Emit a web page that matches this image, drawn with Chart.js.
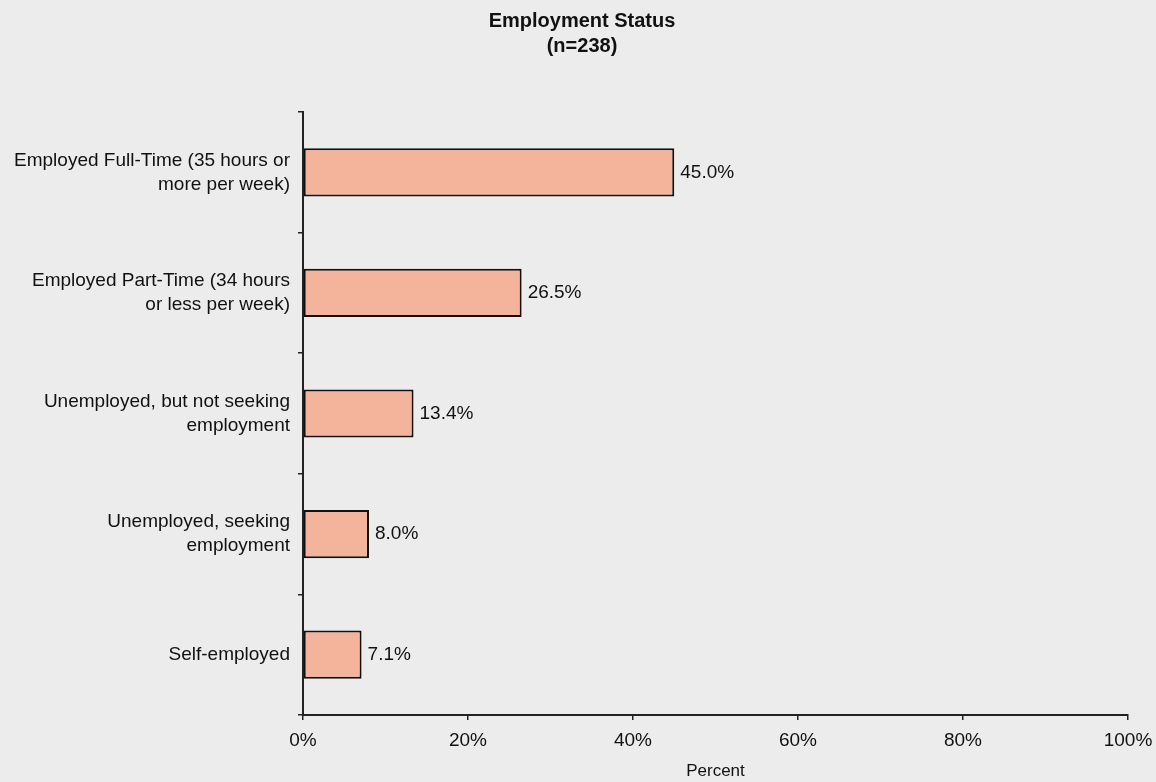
<!DOCTYPE html>
<html>
<head>
<meta charset="utf-8">
<script src="https://cdn.jsdelivr.net/npm/chart.js@4.4.1/dist/chart.umd.min.js"></script>
<style>
html,body{margin:0;padding:0;background:#ececec;}
#wrap{width:1156px;height:782px;position:relative;}
</style>
</head>
<body>
<div id="wrap"><canvas id="c" width="1156" height="782"></canvas></div>
<script>
const categories = [
  ["Employed Full-Time (35 hours or", "more per week)"],
  ["Employed Part-Time (34 hours", "or less per week)"],
  ["Unemployed, but not seeking", "employment"],
  ["Unemployed, seeking", "employment"],
  ["Self-employed"]
];
const values = [45.0, 26.5, 13.4, 8.0, 7.1];
const xTicks = [0, 20, 40, 60, 80, 100];
const titleLines = ["Employment Status", "(n=238)"];
const xTitle = "Percent";

const FONT = "'Liberation Sans', Arial, sans-serif";

const bgPlugin = {
  id: 'bg',
  beforeDraw(chart) {
    const ctx = chart.ctx;
    ctx.save();
    ctx.fillStyle = '#ececec';
    ctx.fillRect(0, 0, chart.width, chart.height);
    ctx.restore();
  }
};

const titlePlugin = {
  id: 'ttl',
  afterDraw(chart) {
    const ctx = chart.ctx;
    ctx.save();
    ctx.fillStyle = '#111';
    ctx.font = "bold 20px " + FONT;
    ctx.textAlign = 'center';
    ctx.textBaseline = 'middle';
    ctx.fillText(titleLines[0], 582, 21);
    ctx.fillText(titleLines[1], 582, 46);
    ctx.restore();
  }
};

const labelPlugin = {
  id: 'vals',
  afterDatasetsDraw(chart) {
    const ctx = chart.ctx;
    const meta = chart.getDatasetMeta(0);
    ctx.save();
    ctx.fillStyle = '#111';
    ctx.font = "19px " + FONT;
    ctx.textAlign = 'left';
    ctx.textBaseline = 'middle';
    meta.data.forEach((bar, i) => {
      ctx.fillText(values[i].toFixed(1) + '%', bar.x + 6, bar.y);
    });
    ctx.restore();
  }
};

new Chart(document.getElementById('c'), {
  type: 'bar',
  data: {
    labels: categories,
    datasets: [{
      data: values,
      backgroundColor: '#f3b49b',
      borderColor: '#111',
      borderWidth: 2,
      borderSkipped: false,
      barPercentage: 0.4,
      categoryPercentage: 1.0
    }]
  },
  options: {
    indexAxis: 'y',
    responsive: false,
    animation: false,
    devicePixelRatio: 1,
    layout: { padding: { top: 112, right: 28, left: 0, bottom: 0 } },
    plugins: { legend: { display: false }, title: { display: false }, tooltip: { enabled: false } },
    scales: {
      x: {
        min: 0, max: 100,
        afterBuildTicks(scale) { scale.ticks = xTicks.map(v => ({ value: v })); },
        afterFit(scale) { scale.height = 67; scale.paddingRight = 0; scale.paddingLeft = 0; },
        grid: { drawOnChartArea: false, tickLength: 5, color: '#222', lineWidth: 1.5 },
        border: { display: true, color: '#222', width: 2 },
        ticks: { color: '#111', font: { family: FONT, size: 19 }, padding: 9, maxRotation: 0,
                 callback: (v) => v + '%' },
        title: { display: true, text: xTitle, color: '#111', font: { family: FONT, size: 17 }, padding: { top: 0, bottom: 0 } }
      },
      y: {
        afterFit(scale) { scale.width = 303; scale.paddingTop = 0; scale.paddingBottom = 0; },
        grid: { drawOnChartArea: false, offset: true, tickLength: 5, color: '#222', lineWidth: 1.5 },
        border: { display: true, color: '#222', width: 2 },
        ticks: { color: '#111', font: { family: FONT, size: 19, lineHeight: 1.26 }, padding: 8 }
      }
    }
  },
  plugins: [bgPlugin, titlePlugin, labelPlugin]
});
</script>
</body>
</html>
